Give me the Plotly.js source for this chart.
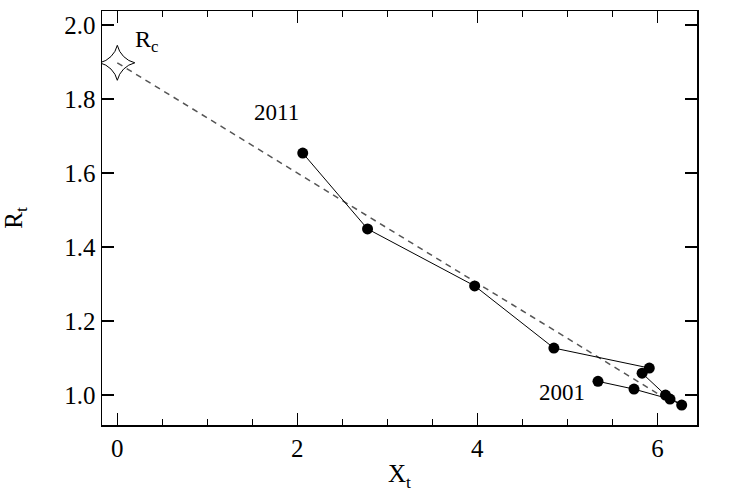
<!DOCTYPE html>
<html>
<head>
<meta charset="utf-8">
<script src="https://cdn.plot.ly/plotly-3.0.1.min.js"></script>
<style>
  body { margin: 0; background: #fff; }
  #chart { width: 747px; height: 502px; }
</style>
</head>
<body>
<div id="chart"></div>
<script>
// yearly points, 2001 -> 2011
const years = [2001, 2002, 2003, 2004, 2005, 2006, 2007, 2008, 2009, 2010, 2011];
const xt = [5.34, 5.74, 6.14, 6.27, 6.09, 5.83, 5.91, 4.85, 3.97, 2.78, 2.06];
const rt = [1.037, 1.016, 0.989, 0.973, 1.000, 1.059, 1.073, 1.127, 1.295, 1.449, 1.654];

// critical point and the dashed line from it
const rcX = [0];
const rcY = [1.898];
const dashX = [0, 6.15];
const dashY = [1.898, 0.982];

const serif = 'Liberation Serif, Times New Roman, serif';

const dashTrace = {
  x: dashX,
  y: dashY,
  type: 'scatter',
  mode: 'lines',
  line: { color: '#555', width: 1.5, dash: '6px,5px' },
  hoverinfo: 'skip'
};

const pathTrace = {
  x: xt,
  y: rt,
  text: years,
  type: 'scatter',
  mode: 'lines+markers',
  line: { color: '#000', width: 1 },
  marker: { color: '#000', size: 11 }
};

const rcTrace = {
  x: rcX,
  y: rcY,
  type: 'scatter',
  mode: 'markers',
  marker: { symbol: 'star-diamond-open', size: 25, color: '#000', line: { width: 1, color: '#000' } }
};

const axisCommon = {
  showgrid: false,
  zeroline: false,
  showline: true,
  linecolor: '#000',
  linewidth: 1.5,
  mirror: 'ticks',
  ticks: 'inside',
  ticklen: 12,
  tickwidth: 1.5,
  tickcolor: '#000',
  tickfont: { family: serif, size: 25, color: '#000' }
};

const layout = {
  width: 747,
  height: 502,
  margin: { l: 102, r: 50, t: 11, b: 77 },
  paper_bgcolor: '#fff',
  plot_bgcolor: '#fff',
  showlegend: false,
  font: { family: serif, color: '#000' },
  xaxis: Object.assign({}, axisCommon, {
    range: [-0.17, 6.44],
    tickvals: [0, 2, 4, 6],
    ticktext: ['0', '2', '4', '6'],
    minor: { dtick: 0.5, tick0: 0, ticks: 'inside', ticklen: 6, tickwidth: 1.5, tickcolor: '#000' },
    title: { text: 'X<sub>t</sub>', font: { family: serif, size: 25 }, standoff: 4 }
  }),
  yaxis: Object.assign({}, axisCommon, {
    range: [0.919, 2.038],
    tickvals: [1.0, 1.2, 1.4, 1.6, 1.8, 2.0],
    ticktext: ['1.0', '1.2', '1.4', '1.6', '1.8', '2.0'],
    title: { text: 'R<sub>t</sub>', font: { family: serif, size: 25 }, standoff: 38 }
  }),
  annotations: [
    { x: 0.17, y: 1.958, text: 'R<sub>c</sub>', showarrow: false, xanchor: 'left', font: { family: serif, size: 24 } },
    { x: 1.77, y: 1.765, text: '2011', showarrow: false, font: { family: serif, size: 23 } },
    { x: 4.94, y: 1.008, text: '2001', showarrow: false, font: { family: serif, size: 23 } }
  ]
};

Plotly.newPlot('chart', [dashTrace, pathTrace, rcTrace], layout, { displayModeBar: false, staticPlot: true });
</script>
</body>
</html>
